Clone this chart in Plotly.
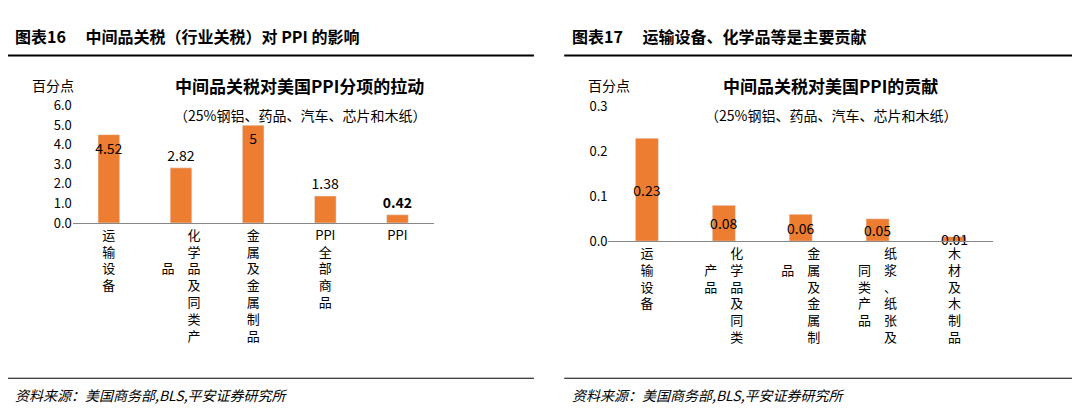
import plotly.graph_objects as go

left_cats = ["运输设备", "化学品及同类产品", "金属及金属制品", "PPI全部商品", "PPI"]
left_vals = [4.52, 2.82, 5, 1.38, 0.42]
left_text = ["4.52", "2.82", "5", "1.38", "<b>0.42</b>"]
left_pos = ["inside", "outside", "inside", "outside", "outside"]

right_cats = ["运输设备", "化学品及同类产品", "金属及金属制品", "纸浆、纸张及同类产品", "木材及木制品"]
right_vals = [0.23, 0.08, 0.06, 0.05, 0.01]
right_text = ["0.23", "0.08", "0.06", "0.05", "0.01"]
right_anchor = ["middle", "end", "end", "end", "end"]

FONT = "Noto Sans CJK SC, Noto Sans, sans-serif"
ORANGE = "#ED7D31"
SP = "\u3000"


def tokens(s):
    out, i = [], 0
    while i < len(s):
        if s[i:i + 3] == "PPI":
            out.append("PPI")
            i += 3
        else:
            out.append(s[i])
            i += 1
    return out


def vert(s, maxrows=7, offset=2):
    t = tokens(s)
    if len(t) <= maxrows:
        return "<br>".join(t)
    right, left = t[:maxrows], t[maxrows:]
    rows = []
    for r in range(maxrows):
        li = r - offset
        lc = left[li] if 0 <= li < len(left) else SP
        rows.append(lc + SP + right[r])
    return "<br>".join(rows)


fig = go.Figure()
fig.add_trace(go.Bar(x=[vert(c) for c in left_cats], y=left_vals, text=left_text,
                     textposition=left_pos, insidetextanchor="end", textangle=0,
                     constraintext="none", marker_color=ORANGE, width=0.3,
                     xaxis="x", yaxis="y", textfont=dict(size=14, color="black"), cliponaxis=False))
fig.add_trace(go.Bar(x=[vert(c, 6, 1) for c in right_cats], y=right_vals, text=right_text,
                     textposition="inside", insidetextanchor=right_anchor[0], textangle=0,
                     constraintext="none", marker_color=ORANGE, width=0.3,
                     xaxis="x2", yaxis="y2", textfont=dict(size=14, color="black"), cliponaxis=False))

axis_common = dict(showgrid=False, ticks="", tickfont=dict(size=13, color="black", family=FONT))
fig.update_layout(
    width=1080, height=414, margin=dict(l=0, r=0, t=0, b=0),
    paper_bgcolor="white", plot_bgcolor="white", showlegend=False,
    font=dict(family=FONT, color="black"),
    uniformtext=dict(minsize=13, mode="show"),
    xaxis=dict(domain=[0.06, 0.394], showline=True, linecolor="#888", anchor="y", **axis_common),
    yaxis=dict(domain=[0.481, 0.778], range=[0, 6], dtick=1, tickformat=".1f",
               showline=False, zeroline=False, anchor="x", **axis_common),
    xaxis2=dict(domain=[0.556, 0.912], showline=True, linecolor="#888", anchor="y2", **axis_common),
    yaxis2=dict(domain=[0.435, 0.775], range=[0, 0.3], dtick=0.1, tickformat=".1f",
                showline=False, zeroline=False, anchor="x2", **axis_common),
)

ann = [
    (0.005, 0.955, "<b>图表16　 中间品关税（行业关税）对 PPI 的影响</b>", 16, "left"),
    (0.52, 0.955, "<b>图表17　 运输设备、化学品等是主要贡献</b>", 16, "left"),
    (0.02, 0.83, "百分点", 14, "left"),
    (0.535, 0.83, "百分点", 14, "left"),
    (0.27, 0.83, "<b>中间品关税对美国PPI分项的拉动</b>", 17, "center"),
    (0.27, 0.755, "（25%钢铝、药品、汽车、芯片和木纸）", 14, "center"),
    (0.762, 0.83, "<b>中间品关税对美国PPI的贡献</b>", 17, "center"),
    (0.762, 0.755, "（25%钢铝、药品、汽车、芯片和木纸）", 14, "center"),
    (0.005, 0.045, "<i>资料来源：美国商务部,BLS,平安证券研究所</i>", 14, "left"),
    (0.52, 0.045, "<i>资料来源：美国商务部,BLS,平安证券研究所</i>", 14, "left"),
]
for x, y, t, s, a in ann:
    fig.add_annotation(x=x, y=y, xref="paper", yref="paper", text=t, showarrow=False,
                       xanchor=a, yanchor="middle", font=dict(size=s, color="black", family=FONT))

for x0, x1 in [(0.0, 0.487), (0.515, 1.0)]:
    fig.add_shape(type="line", xref="paper", yref="paper", x0=x0, x1=x1, y0=0.905, y1=0.905,
                  line=dict(color="black", width=2))
    fig.add_shape(type="line", xref="paper", yref="paper", x0=x0, x1=x1, y0=0.088, y1=0.088,
                  line=dict(color="black", width=1))

fig.write_html("out.html")
